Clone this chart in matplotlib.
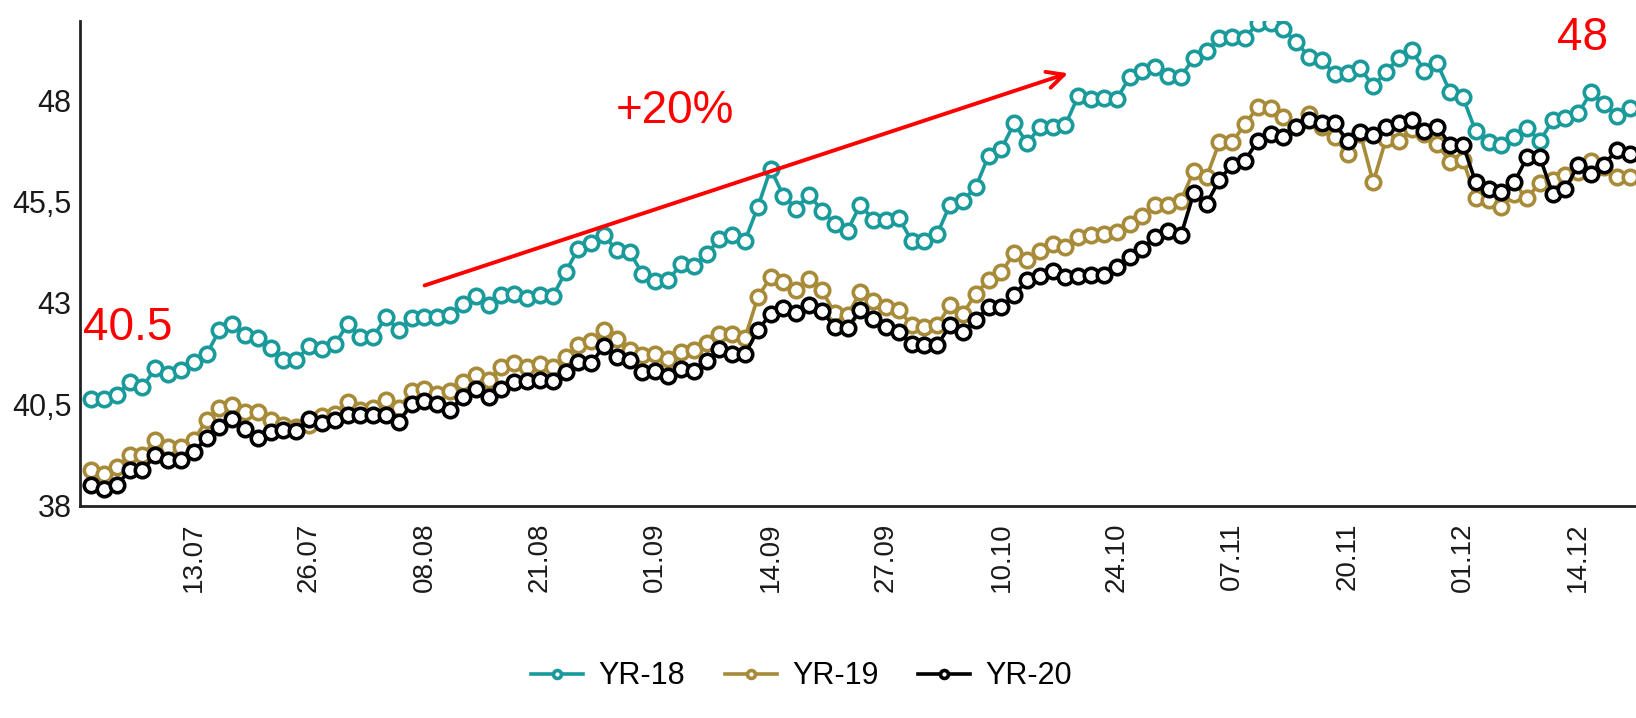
import matplotlib
matplotlib.use("Agg")
import matplotlib.pyplot as plt

plt.rcParams['font.family'] = ['Liberation Sans', 'DejaVu Sans']

# values, one point per step on the x axis
yr18 = [40.63, 40.63, 40.72, 41.05, 40.92, 41.38, 41.25, 41.33, 41.54, 41.73,
        42.32, 42.49, 42.20, 42.14, 41.89, 41.58, 41.58, 41.93, 41.87, 41.98,
        42.47, 42.16, 42.16, 42.65, 42.32, 42.63, 42.65, 42.65, 42.69, 42.98,
        43.16, 42.96, 43.19, 43.23, 43.13, 43.19, 43.16, 43.76, 44.34, 44.48,
        44.67, 44.30, 44.26, 43.72, 43.54, 43.56, 43.95, 43.91, 44.21, 44.57,
        44.69, 44.54, 45.37, 46.31, 45.65, 45.33, 45.68, 45.28, 44.96, 44.79,
        45.43, 45.05, 45.05, 45.10, 44.54, 44.53, 44.71, 45.43, 45.53, 45.86,
        46.64, 46.81, 47.44, 46.95, 47.34, 47.34, 47.41, 48.12, 48.04, 48.07,
        48.04, 48.58, 48.74, 48.82, 48.62, 48.59, 49.05, 49.23, 49.56, 49.58,
        49.56, 49.91, 49.93, 49.77, 49.44, 49.09, 49.00, 48.66, 48.68, 48.81,
        48.35, 48.72, 49.05, 49.25, 48.74, 48.92, 48.21, 48.08, 47.24, 46.97,
        46.91, 47.10, 47.33, 47.00, 47.51, 47.57, 47.69, 48.21, 47.92, 47.63,
        47.82]
yr19 = [38.86, 38.78, 38.95, 39.23, 39.23, 39.60, 39.44, 39.44, 39.60, 40.10,
        40.39, 40.47, 40.30, 40.30, 40.10, 39.98, 39.93, 39.98, 40.20, 40.26,
        40.55, 40.35, 40.39, 40.59, 40.39, 40.82, 40.86, 40.76, 40.82, 41.05,
        41.21, 41.09, 41.42, 41.51, 41.42, 41.50, 41.42, 41.66, 41.95, 42.07,
        42.32, 42.10, 41.83, 41.70, 41.73, 41.62, 41.79, 41.83, 42.01, 42.22,
        42.24, 42.14, 43.14, 43.64, 43.52, 43.31, 43.60, 43.31, 42.75, 42.70,
        43.27, 43.05, 42.90, 42.83, 42.45, 42.40, 42.45, 42.94, 42.73, 43.23,
        43.56, 43.76, 44.23, 44.07, 44.28, 44.46, 44.38, 44.63, 44.67, 44.71,
        44.75, 44.95, 45.14, 45.43, 45.43, 45.53, 46.26, 46.11, 46.97, 46.97,
        47.42, 47.84, 47.82, 47.59, 47.34, 47.67, 47.34, 47.10, 46.67, 47.18,
        45.98, 47.05, 47.01, 47.30, 47.18, 46.93, 46.48, 46.53, 45.60, 45.55,
        45.38, 45.70, 45.60, 45.96, 46.03, 46.15, 46.23, 46.52, 46.35, 46.11,
        46.11]
yr20 = [38.49, 38.41, 38.49, 38.86, 38.86, 39.23, 39.11, 39.11, 39.32, 39.65,
        39.93, 40.14, 39.89, 39.65, 39.81, 39.85, 39.84, 40.14, 40.02, 40.10,
        40.22, 40.22, 40.22, 40.22, 40.06, 40.50, 40.57, 40.49, 40.35, 40.68,
        40.86, 40.68, 40.86, 41.05, 41.07, 41.09, 41.07, 41.29, 41.54, 41.51,
        41.93, 41.67, 41.58, 41.29, 41.32, 41.19, 41.37, 41.32, 41.56, 41.87,
        41.73, 41.73, 42.33, 42.72, 42.88, 42.75, 42.94, 42.80, 42.40, 42.39,
        42.82, 42.59, 42.40, 42.28, 41.98, 41.95, 41.95, 42.45, 42.28, 42.57,
        42.90, 42.90, 43.19, 43.56, 43.66, 43.80, 43.64, 43.66, 43.68, 43.68,
        43.89, 44.13, 44.34, 44.63, 44.79, 44.67, 45.71, 45.45, 46.04, 46.42,
        46.52, 47.01, 47.18, 47.09, 47.36, 47.52, 47.44, 47.44, 47.01, 47.22,
        47.14, 47.34, 47.44, 47.52, 47.26, 47.36, 46.91, 46.91, 45.98, 45.82,
        45.74, 45.98, 46.60, 46.60, 45.70, 45.82, 46.42, 46.19, 46.42, 46.78,
        46.67]

date_labels = ["13.07", "26.07", "08.08", "21.08", "01.09", "14.09", "27.09",
               "10.10", "24.10", "07.11", "20.11", "01.12", "14.12"]
date_pos = [8, 17, 26, 35, 44, 53, 62, 71, 80, 89, 98, 107, 116]

y_ticks = [38, 40.5, 43, 45.5, 48]
y_labels = ["38", "40,5", "43", "45,5", "48"]

series = [("YR-18", yr18, "#1a9a9a"),
          ("YR-19", yr19, "#a88b38"),
          ("YR-20", yr20, "#000000")]

fig = plt.figure(figsize=(16.36, 7.18), dpi=100)
ax = fig.add_axes([0.0489, 0.2953, 0.9511, 0.6755])

x = list(range(len(yr18)))
for name, vals, col in series:
    ax.plot(x, vals, color=col, lw=2.6, marker="o", ms=10.4,
            mfc="white", mec=col, mew=2.6, label=name)

ax.set_xlim(-0.87, 120.5)
ax.set_ylim(37.98, 49.97)
ax.set_xticks(date_pos)
ax.set_xticklabels(date_labels, rotation=90, fontsize=20, color="#1a1a1a")
ax.set_yticks(y_ticks)
ax.set_yticklabels(y_labels, fontsize=22, color="#1a1a1a")
ax.tick_params(axis="x", length=0, pad=12)
ax.tick_params(axis="y", length=0, pad=6)

for s in ["top", "right"]:
    ax.spines[s].set_visible(False)
for s in ["left", "bottom"]:
    ax.spines[s].set_linewidth(2)
    ax.spines[s].set_color("#222222")

# red notes added on top of the chart
ax.text(-0.63, 42.38, "40.5", color="red", fontsize=33, ha="left", va="center")
ax.text(45.5, 47.75, "+20%", color="red", fontsize=33, ha="center", va="center")
ax.text(116.3, 49.55, "48", color="red", fontsize=33, ha="center", va="center")
ax.annotate("", xy=(76.4, 48.70), xytext=(25.8, 43.41),
            arrowprops=dict(arrowstyle="->", color="red", lw=2.8,
                            mutation_scale=30))

fig.legend(loc="center", bbox_to_anchor=(0.49, 0.058), ncol=3, frameon=False,
           fontsize=22, markerscale=0.55, handlelength=1.7, columnspacing=1.3,
           handletextpad=0.5)

fig.savefig("out.png", dpi=100)
